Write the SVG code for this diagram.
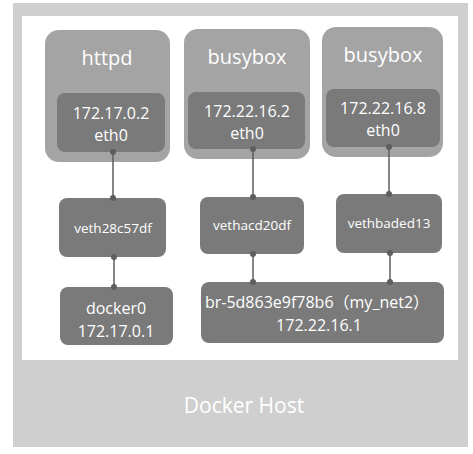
<svg xmlns="http://www.w3.org/2000/svg" width="473" height="454" viewBox="0 0 473 454">
  <defs>
    <style>
      .frame { fill: #cfcfcf; }
      .host { fill: #ffffff; }
      .container { fill: #a4a4a4; }
      .dark { fill: #7a7a7a; }
      .t { font-family: "Open Sans", "Noto Sans", "Liberation Sans", "Noto Sans CJK SC", sans-serif; fill: #ffffff; text-anchor: middle; }
      .title { font-size: 20px; }
      .hosttitle { font-size: 21px; }
      .ip { font-size: 16px; }
      .small { font-size: 13.5px; }
      .br { font-size: 16px; }
      .conn line { stroke: #5e5e5e; stroke-width: 1.5; }
      .conn circle { fill: #5e5e5e; }
    </style>
  </defs>
  <rect width="473" height="454" fill="#ffffff"/>
  <g id="docker-host">
    <rect class="frame" x="13" y="3" width="455" height="444"/>
    <rect class="host" x="22" y="16" width="436" height="344"/>
    <text class="t hosttitle" x="244" y="413">Docker Host</text>
  </g>

  <g id="httpd">
    <rect class="container" x="45" y="30" width="125" height="132" rx="14"/>
    <text class="t title" x="107" y="65">httpd</text>
    <rect class="dark" x="57" y="93" width="108" height="59" rx="8"/>
    <text class="t ip" x="111" y="119">172.17.0.2</text>
    <text class="t ip" x="111" y="141">eth0</text>
  </g>

  <g id="busybox1">
    <rect class="container" x="184" y="29" width="126" height="130" rx="14"/>
    <text class="t title" x="247" y="64">busybox</text>
    <rect class="dark" x="188" y="92" width="117" height="57" rx="8"/>
    <text class="t ip" x="247" y="117">172.22.16.2</text>
    <text class="t ip" x="247" y="139">eth0</text>
  </g>

  <g id="busybox2">
    <rect class="container" x="322" y="27" width="121" height="130" rx="14"/>
    <text class="t title" x="383" y="62">busybox</text>
    <rect class="dark" x="326" y="89" width="114" height="58" rx="8"/>
    <text class="t ip" x="383" y="114">172.22.16.8</text>
    <text class="t ip" x="383" y="136">eth0</text>
  </g>

  <g id="veth28c57df">
    <rect class="dark" x="59" y="198" width="107" height="59" rx="8"/>
    <text class="t small" x="113" y="233">veth28c57df</text>
  </g>

  <g id="vethacd20df">
    <rect class="dark" x="200" y="197" width="104" height="57" rx="8"/>
    <text class="t small" x="252" y="230">vethacd20df</text>
  </g>

  <g id="vethbaded13">
    <rect class="dark" x="336" y="194" width="106" height="59" rx="8"/>
    <text class="t small" x="389" y="228">vethbaded13</text>
  </g>

  <g id="docker0">
    <rect class="dark" x="60" y="287" width="113" height="58" rx="8"/>
    <text class="t ip" x="116" y="314">docker0</text>
    <text class="t ip" x="116" y="337">172.17.0.1</text>
  </g>

  <g id="br-my_net2">
    <rect class="dark" x="201" y="282" width="243" height="61" rx="8"/>
    <text class="t br" x="317" y="308">br-5d863e9f78b6（my_net2）</text>
    <text class="t ip" x="319" y="331">172.22.16.1</text>
  </g>

  <g id="connectors" class="conn">
    <line x1="113" y1="152" x2="113" y2="198"/>
    <circle cx="113" cy="152" r="3"/>
    <circle cx="113" cy="198" r="3"/>
    <line x1="114" y1="257" x2="114" y2="287"/>
    <circle cx="114" cy="257" r="3"/>
    <circle cx="114" cy="287" r="3"/>

    <line x1="253" y1="149" x2="253" y2="197"/>
    <circle cx="253" cy="149" r="3"/>
    <circle cx="253" cy="197" r="3"/>
    <line x1="253" y1="254" x2="253" y2="282"/>
    <circle cx="253" cy="254" r="3"/>
    <circle cx="253" cy="282" r="3"/>

    <line x1="389" y1="147" x2="389" y2="194"/>
    <circle cx="389" cy="147" r="3"/>
    <circle cx="389" cy="194" r="3"/>
    <line x1="390" y1="253" x2="390" y2="282"/>
    <circle cx="390" cy="253" r="3"/>
    <circle cx="390" cy="282" r="3"/>
  </g>
</svg>
